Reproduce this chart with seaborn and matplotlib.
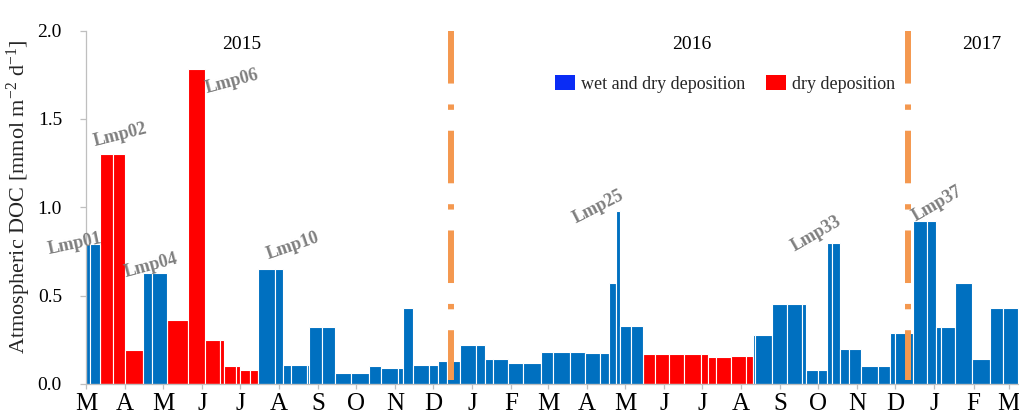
import numpy as np
import pandas as pd
import matplotlib
matplotlib.use("Agg")
import matplotlib.pyplot as plt
from matplotlib.patches import Patch
import seaborn as sns

# Sampling intervals: edges in days after 1 March 2015
edges = [0, 3, 11, 21, 31, 45, 52, 64, 81, 94, 106, 109, 119, 122, 130,
         136, 150, 156, 162, 175, 177, 187, 197, 210, 224, 234, 247, 251, 259, 272,
         279, 286, 296, 309, 316, 322, 334, 346, 360, 370, 383, 395, 407, 414, 419.5,
         423, 432, 441, 451, 462, 474, 487, 493, 499, 511, 523, 528, 530, 543, 555,
         567, 570, 580, 587, 591, 597, 604, 614, 627, 637, 641, 655, 666, 673, 677,
         688, 702, 716, 726, 738]

# Atmospheric DOC flux per interval [mmol m-2 d-1]
doc_flux = [0.79, 0.79, 1.30, 1.30, 0.19, 0.63, 0.63, 0.36, 1.78, 0.25,
            0.25, 0.10, 0.10, 0.08, 0.08, 0.65, 0.65, 0.11, 0.11, 0.11,
            0.32, 0.32, 0.06, 0.06, 0.10, 0.09, 0.09, 0.43, 0.11, 0.11,
            0.13, 0.13, 0.22, 0.22, 0.14, 0.14, 0.12, 0.12, 0.18, 0.18,
            0.18, 0.175, 0.175, 0.57, 0.98, 0.33, 0.33, 0.17, 0.17, 0.17,
            0.17, 0.17, 0.15, 0.15, 0.16, 0.16, 0.28, 0.28, 0.45, 0.45,
            0.45, 0.08, 0.08, 0.80, 0.80, 0.20, 0.20, 0.10, 0.10, 0.29,
            0.29, 0.92, 0.92, 0.32, 0.32, 0.57, 0.14, 0.43, 0.43]

# W = wet and dry deposition, D = dry deposition only
kind_codes = ("WW" "DDD" "WW" "DDDDDDDD"
              "WWWWWWWWWWWWWWWWWWWWWWWWWWWWWWWW"
              "DDDDDDDDD"
              "WWWWWWWWWWWWWWWWWWWWWWW")
kind_names = {"W": "wet and dry deposition", "D": "dry deposition"}

month_letters = ["M", "A", "M", "J", "J", "A", "S", "O", "N", "D", "J", "F",
                 "M", "A", "M", "J", "J", "A", "S", "O", "N", "D", "J", "F", "M"]

sample_labels = ["Lmp01", "Lmp02", "Lmp04", "Lmp06", "Lmp10", "Lmp25", "Lmp33", "Lmp37"]
years = ["2015", "2016", "2017"]
year_breaks = [289, 651]  # days after 1 March 2015

# annotation placement (day, flux, rotation)
sample_label_pos = [(-8.7, 0.79, 12), (27, 1.41, 14), (51.5, 0.67, 15), (115.6, 1.71, 15),
                    (164, 0.78, 19), (405.5, 1.00, 27), (578, 0.85, 30), (674, 1.02, 30)]
year_pos = [(123.5, 1.92), (480, 1.92), (709.6, 1.92)]

wet_col, dry_col = "#0070C0", "#FF0000"

sns.set_theme(style="white")
plt.rcParams["font.family"] = ["Liberation Serif", "DejaVu Serif"]
plt.rcParams["mathtext.fontset"] = "custom"
plt.rcParams["mathtext.rm"] = "Liberation Serif"
plt.rcParams["mathtext.it"] = "Liberation Serif:italic"

e = np.asarray(edges, dtype=float)
df = pd.DataFrame({
    "mid": (e[:-1] + e[1:]) / 2,
    "doc": doc_flux,
    "kind": [kind_names[c] for c in kind_codes],
})

fig = plt.figure(figsize=(10.19, 4.2), dpi=100)
ax = fig.add_axes([86 / 1019, 36 / 420, 933 / 1019, 353.4 / 420])

wet, dry = kind_names["W"], kind_names["D"]
sns.histplot(data=df, x="mid", weights="doc", bins=edges, hue="kind",
             hue_order=[wet, dry], palette={wet: wet_col, dry: dry_col},
             multiple="layer", element="bars", alpha=1, edgecolor="white",
             linewidth=0.8, legend=False, ax=ax)

# year separators
for xb in year_breaks:
    ax.plot([xb, xb], [2.0, 0.02], color="#F4984F", lw=4.3,
            dashes=[8.8, 3.5, 0.9, 3.5], dash_capstyle="butt", zorder=3)

ax.set_xlim(0, 739)
ax.set_ylim(0, 2.0)

month_starts = pd.date_range("2015-03-01", "2017-03-01", freq="MS")
ax.set_xticks((month_starts - pd.Timestamp("2015-03-01")).days)
ax.set_xticklabels(month_letters, fontsize=18)
ax.set_yticks([0, 0.5, 1.0, 1.5, 2.0])
ax.set_yticklabels([f"{v:.1f}" for v in [0, 0.5, 1.0, 1.5, 2.0]], fontsize=14)

ax.set_xlabel("")
ax.set_ylabel(r"Atmospheric DOC [mmol m$^{\mathrm{-2}}$ d$^{\mathrm{-1}}$]", fontsize=16)
ax.yaxis.set_label_coords(-0.057, 0.528)

for side in ["top", "right"]:
    ax.spines[side].set_visible(False)
for side in ["left", "bottom"]:
    ax.spines[side].set_color("#BFBFBF")
    ax.spines[side].set_linewidth(0.9)
ax.tick_params(axis="y", which="both", left=True, length=4.3, width=0.9,
               color="#BFBFBF", pad=13, labelcolor="black")
ax.tick_params(axis="x", which="both", bottom=True, length=3.6, width=0.9,
               color="#BFBFBF", pad=3, labelcolor="black")
ax.grid(False)

for lab, (xd, yd, rot) in zip(sample_labels, sample_label_pos):
    ax.text(xd, yd, lab, fontsize=13, fontweight="bold", color="#7F7F7F",
            rotation=rot, rotation_mode="anchor", ha="center", va="center",
            clip_on=False, zorder=4)

for yr, (xd, yd) in zip(years, year_pos):
    ax.text(xd, yd, yr, fontsize=14, color="black", ha="center", va="center")

handles = [Patch(facecolor="#0A2CF5", edgecolor="none", label=wet),
           Patch(facecolor="#FF0000", edgecolor="none", label=dry)]
ax.legend(handles=handles, loc="center left", bbox_to_anchor=(0.503, 0.85),
          ncol=2, frameon=False, fontsize=13, handlelength=1.1, handleheight=0.95,
          handletextpad=0.3, columnspacing=1.2, borderpad=0, borderaxespad=0)

fig.savefig("out.png", dpi=100)
